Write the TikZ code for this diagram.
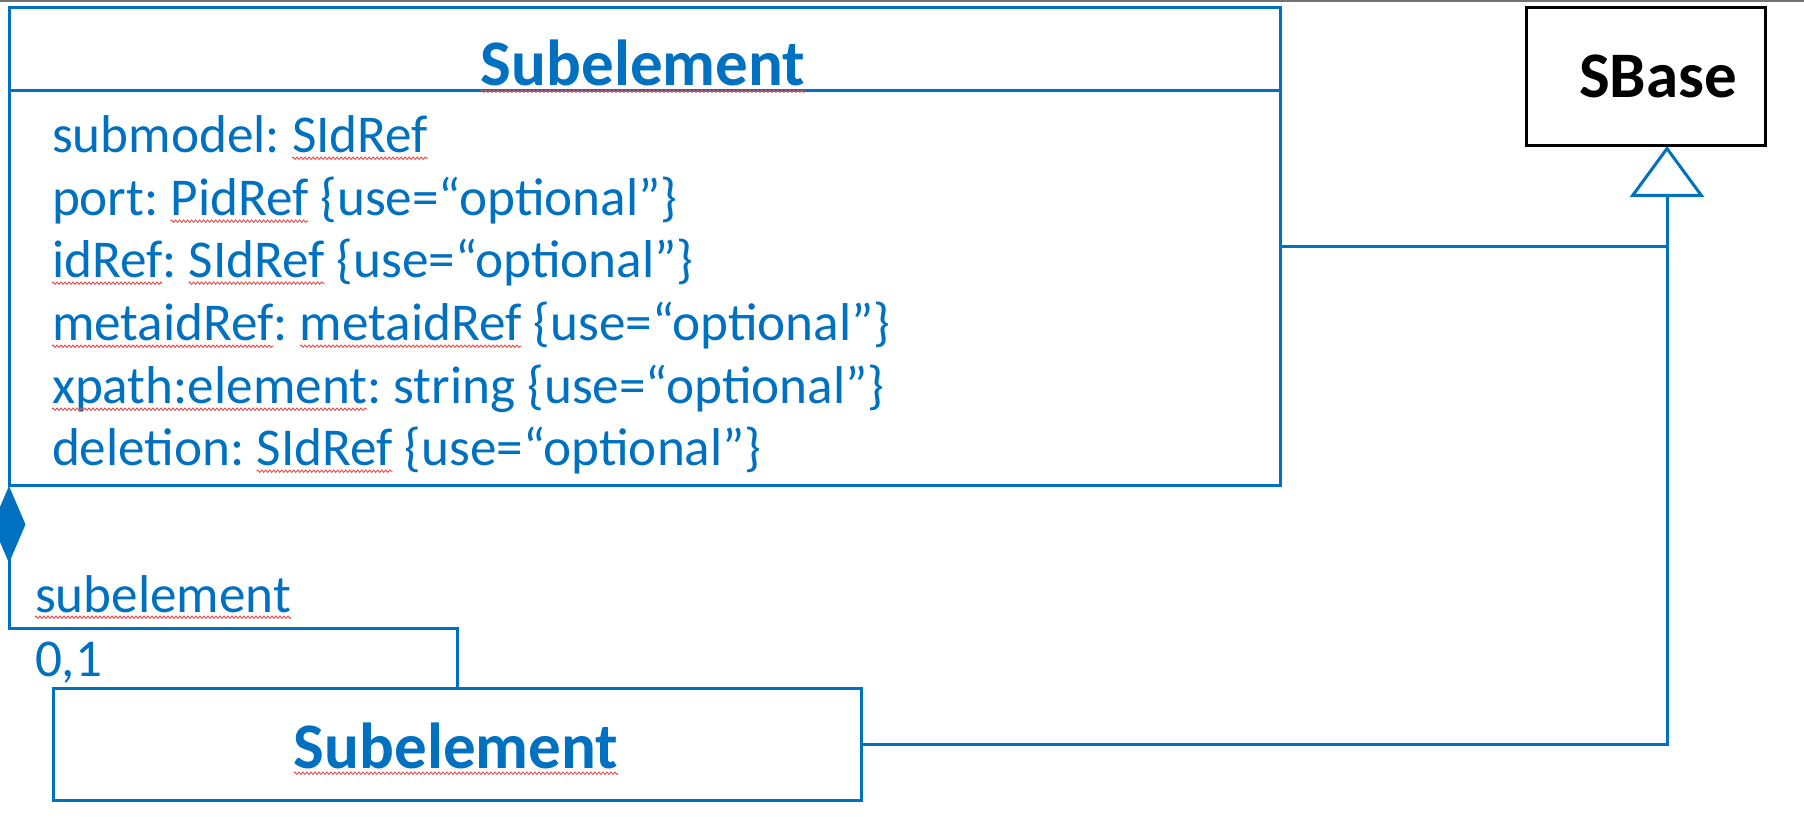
\documentclass[tikz,border=0pt]{standalone}
\usepackage{fontspec}
\setmainfont{Carlito}
\usetikzlibrary{arrows.meta,decorations.pathmorphing}
\definecolor{umlblue}{HTML}{0070C0}
\definecolor{squig}{HTML}{F04848}
\newcommand\gap{\kern\fontdimen2\font}
\tikzset{
  px/.style={x=0.5pt,y=-0.5pt},
  umlline/.style={draw=umlblue,line width=1.5pt},
  txt/.style={inner sep=0pt,outer sep=0pt,anchor=base west,text=umlblue,
    font=\fontsize{26.6}{32}\selectfont},
  ttl/.style={inner sep=0pt,outer sep=0pt,anchor=base,text=umlblue,
    font=\fontsize{32.5}{39}\selectfont\bfseries},
  sq/.style={append after command={
    ([yshift=-2.6pt]\tikzlastnode.base west) edge[-,draw=squig,line width=0.45pt,
      decorate,decoration={zigzag,segment length=2pt,amplitude=0.6pt}]
    ([yshift=-2.6pt]\tikzlastnode.base east)}},
  box/.style={rectangle,inner sep=0pt,outer sep=0pt},
}
\begin{document}
\begin{tikzpicture}[px]
\useasboundingbox (0,0) rectangle (1804,817);
\draw[black!55,line width=0.7pt] (0,1) -- (1804,1);

% classes
\node[box,umlline,minimum width=635.5pt,minimum height=239pt] (main) at (644.5,247) {};
\draw[umlline] (main.north west) ++(0,83) coordinate (hl) -- (hl -| main.east);
\node[box,draw=black,line width=1.5pt,minimum width=119.5pt,minimum height=69pt] (sbase) at (1645.5,77) {};
\node[box,umlline,minimum width=404pt,minimum height=56pt] (sub2) at (457,744) {};

% class names
\node[ttl,sq] (t1) at (643,86) {Subelement};
\node[ttl,text=black] (t2) at (1658,98) {SBase};
\node[ttl,sq] (t3) at (456,768) {Subelement};

% attributes
\node[txt] (a1) at (52,153) {submodel:\gap};
\node[txt,sq] (a1b) at (a1.base east) {SIdRef};

\node[txt] (a2) at (52,216) {port:\gap};
\node[txt,sq] (a2b) at (a2.base east) {PidRef};
\node[txt] (a2c) at (a2b.base east) {\gap\{use=“optional”\}};

\node[txt,sq] (a3) at (52,278) {idRef};
\node[txt] (a3b) at (a3.base east) {:\gap};
\node[txt,sq] (a3c) at (a3b.base east) {SIdRef};
\node[txt] (a3d) at (a3c.base east) {\gap\{use=“optional”\}};

\node[txt,sq] (a4) at (52,341) {metaidRef};
\node[txt] (a4b) at (a4.base east) {:\gap};
\node[txt,sq] (a4c) at (a4b.base east) {metaidRef};
\node[txt] (a4d) at (a4c.base east) {\gap\{use=“optional”\}};

\node[txt,sq] (a5) at (52,404) {xpath:element};
\node[txt] (a5b) at (a5.base east) {:\gap string \{use=“optional”\}};

\node[txt] (a6) at (52,466) {deletion:\gap};
\node[txt,sq] (a6b) at (a6.base east) {SIdRef};
\node[txt] (a6c) at (a6b.base east) {\gap\{use=“optional”\}};

% generalisation to SBase
\coordinate (apex) at (1667,146);
\draw[umlline] (main.east) -- (main.east -| apex);
\draw[umlline,-{Triangle[open,length=25.5pt,width=37pt]}] (sub2.east) -| (apex);

% composition
\coordinate (bend) at (main.west |- 0,628);
\draw[umlline,-{Diamond[fill=umlblue,length=38.5pt,width=16.5pt]}]
  (sub2.north) |- (bend) -- (main.south west);
\node[txt,sq] (role) at (35,612) {subelement};
\node[txt] (mult) at (35,676) {0,1};
\end{tikzpicture}
\end{document}
